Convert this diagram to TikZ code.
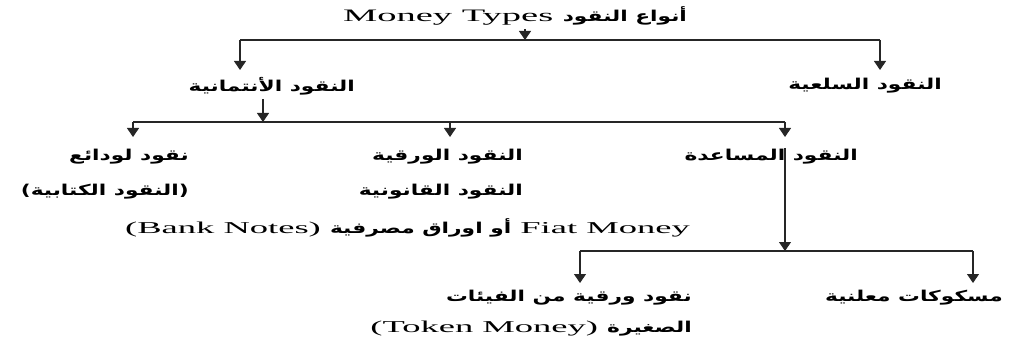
\documentclass[tikz,border=0pt]{standalone}
\usepackage{fontspec}
\usetikzlibrary{arrows.meta}
\TeXXeTstate=1
\setmainfont{Liberation Serif}[FakeStretch=2.2]
\newfontfamily\arfont{DejaVu Sans Bold}[Script=Arabic,FakeStretch=1.45]
\newcommand{\AR}[1]{{\arfont\fontsize{15}{17}\selectfont\beginR #1\endR}}
\begin{document}
\begin{tikzpicture}[x=1pt,y=-1pt,
  lbl/.style={inner sep=0pt, font=\fontsize{17.5}{20}\selectfont},
  lbls/.style={inner sep=0pt, font=\fontsize{16.6}{19}\selectfont},
  conn/.style={line width=1.1pt, draw=black!85},
  arr/.style={conn, -{Triangle[length=9pt,width=12pt]}}]
\useasboundingbox (0,0) rectangle (1034,350);
% texts
\node[lbl] (title) at (515,16) {Money Types \AR{أنواع النقود}};
\node[lbl,anchor=east] (credit) at (355,86) {\AR{النقود الأنتمانية}};
\node[lbl,anchor=east] (commod) at (942,86) {\AR{النقود السلعية}};
\node[lbl,anchor=east] (dep) at (189,157) {\AR{نقود لودائع}};
\node[lbl,anchor=east] (dep2) at (189,192) {\AR{(النقود الكتابية)}};
\node[lbl,anchor=east] (paper) at (523,157) {\AR{النقود الورقية}};
\node[lbl,anchor=east] (paper2) at (523,192) {\AR{النقود القانونية}};
\node[lbls,anchor=east] (fiat) at (690,228) {(Bank Notes) \AR{أو اوراق مصرفية} Fiat Money};
\node[lbl,anchor=east] (aux) at (858,157) {\AR{النقود المساعدة}};
\node[lbl,anchor=east] (small) at (692,298) {\AR{نقود ورقية من الفيئات}};
\node[lbls,anchor=east] (token) at (692,329) {(Token Money) \AR{الصغيرة}};
\node[lbl,anchor=east] (coins) at (1003,298) {\AR{مسكوكات معلنية}};
% junctions
\coordinate (t0) at (525,29);
\coordinate (j1) at (525,40);
\coordinate (j1l) at (240,40);
\coordinate (j1r) at (880,40);
\coordinate (c0) at (263,99);
\coordinate (j2) at (263,122);
\coordinate (j2l) at (133,122);
\coordinate (j2m) at (450,122);
\coordinate (j2r) at (785,122);
\coordinate (a0) at (785,148);
\coordinate (j3) at (785,251);
\coordinate (j3l) at (580,251);
\coordinate (j3r) at (973,251);
% connectors
\draw[arr] (t0) -- (j1);
\draw[conn] (j1l) -- (j1r);
\draw[arr] (j1l) -- (j1l |- 0,70);
\draw[arr] (j1r) -- (j1r |- 0,70);
\draw[arr] (c0) -- (j2);
\draw[conn] (j2l) -- (j2r);
\draw[arr] (j2l) -- (j2l |- 0,137);
\draw[arr] (j2m) -- (j2m |- 0,137);
\draw[arr] (j2r) -- (j2r |- 0,137);
\draw[arr] (a0) -- (j3);
\draw[conn] (j3l) -- (j3r);
\draw[arr] (j3l) -- (j3l |- 0,283);
\draw[arr] (j3r) -- (j3r |- 0,283);
\end{tikzpicture}
\end{document}
